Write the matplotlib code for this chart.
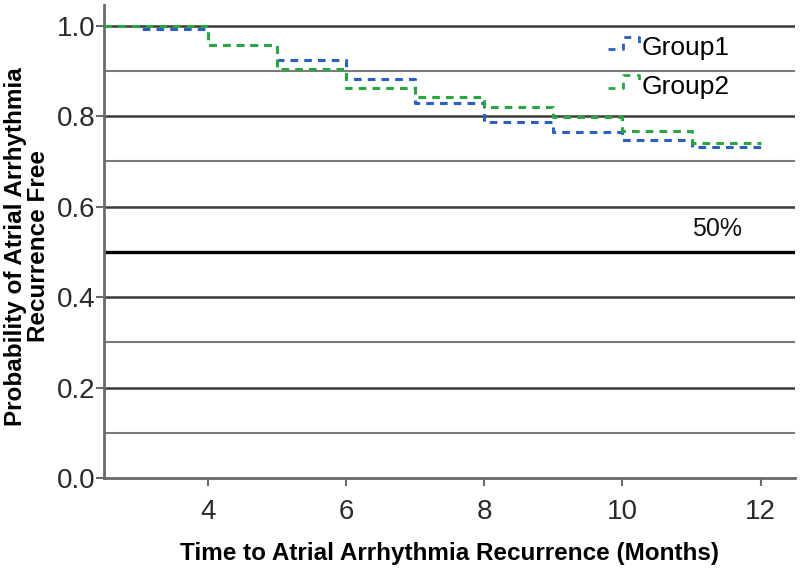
import matplotlib
matplotlib.use('Agg')
import matplotlib.pyplot as plt
from matplotlib.lines import Line2D
from matplotlib.legend_handler import HandlerLine2D

plt.rcParams['font.family'] = ['Liberation Sans', 'DejaVu Sans']

# step points (months) and survival estimates
months = [2.5, 3, 4, 5, 6, 7, 8, 9, 10, 11, 12]
group1 = [1.0, 0.993, 0.958, 0.923, 0.881, 0.828, 0.786, 0.764, 0.748, 0.731, 0.731]
group2 = [1.0, 1.0, 0.958, 0.903, 0.861, 0.843, 0.819, 0.797, 0.766, 0.740, 0.740]
labels = ['Group1', 'Group2']
colors = ['#2a5fc4', '#2aa640']

xticks = [4, 6, 8, 10, 12]
yticks = [0.0, 0.2, 0.4, 0.6, 0.8, 1.0]
minor_y = [0.1, 0.3, 0.7, 0.9]
ref_y = 0.5


class StepHandler(HandlerLine2D):
    # little step-shaped legend symbol, like the SPSS output
    def create_artists(self, legend, orig_handle, xdescent, ydescent,
                       width, height, fontsize, trans):
        x0, x1 = -xdescent, -xdescent + width
        y0, y1 = -ydescent + 0.3 * height, -ydescent + 1.0 * height
        xs = [x0, x0 + 0.5 * width, x0 + 0.5 * width, x1, x1]
        ys = [y0, y0, y1, y1, y1 - 0.35 * height]
        ln = Line2D(xs, ys, color=orig_handle.get_color(), lw=2,
                    ls=(0, (2.5, 2.5)))
        ln.set_transform(trans)
        return [ln]


fig = plt.figure(figsize=(8, 5.72), dpi=100)
ax = fig.add_axes([0.13, 0.164, 0.864, 0.827])

for y in minor_y:
    ax.axhline(y, color='#7a7a7a', lw=1.5, zorder=1)
for y in yticks[1:]:
    ax.axhline(y, color='#3a3a3a', lw=1.8, zorder=1)
ax.axhline(ref_y, color='#000000', lw=2.4, zorder=1)
ax.text(11.37, ref_y + 0.025, '50%', fontsize=18, ha='center', va='bottom',
        color='#111111')

handles = []
for vals, lab, c in zip([group1, group2], labels, colors):
    h, = ax.step(months, vals, where='post', color=c, lw=2.2,
                 ls=(0, (2.5, 2)), label=lab, zorder=3)
    handles.append(h)

ax.set_xlim(2.5, 12.5)
ax.set_ylim(0, 1.045)
ax.set_xticks(xticks)
ax.set_yticks(yticks)
ax.set_yticklabels([f'{v:.1f}' for v in yticks])

for s in ['top', 'right']:
    ax.spines[s].set_visible(False)
for s in ['left', 'bottom']:
    ax.spines[s].set_color('#6a6a6a')
    ax.spines[s].set_linewidth(2)

ax.tick_params(axis='both', labelsize=20, colors='#6a6a6a', labelcolor='#2a2a2a',
               width=1.5, length=6, direction='out')
ax.tick_params(axis='y', pad=0)
ax.tick_params(axis='x', pad=9)

ax.set_xlabel('Time to Atrial Arrhythmia Recurrence (Months)', fontsize=17.5,
              fontweight='bold')
ax.xaxis.set_label_coords(0.5, -0.135)
ax.set_ylabel('Probability of Atrial Arrhythmia\nRecurrence Free', fontsize=17.5,
              fontweight='bold', linespacing=1.0)
ax.yaxis.set_label_coords(-0.078, 0.49)

ax.legend(handles=handles, loc='upper right', bbox_to_anchor=(0.94, 0.985),
          frameon=False, fontsize=19, handlelength=1.2, handletextpad=0.1,
          labelspacing=0.55, handler_map={Line2D: StepHandler()})

fig.savefig('out.png', dpi=100)
